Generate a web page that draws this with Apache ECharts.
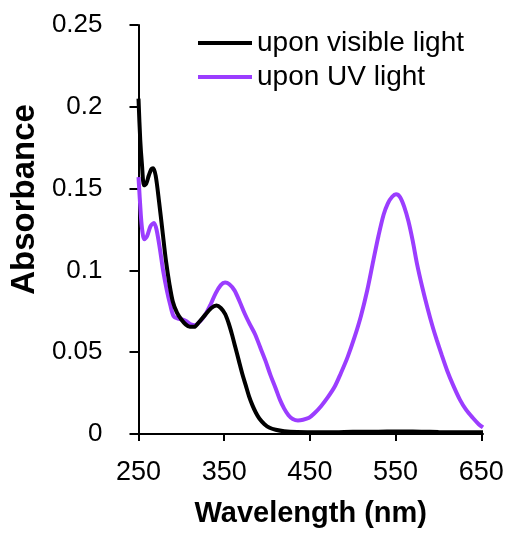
<!DOCTYPE html>
<html>
<head>
<meta charset="utf-8">
<script src="https://cdn.jsdelivr.net/npm/echarts@6/dist/echarts.min.js"></script>
<style>
  html, body { margin: 0; padding: 0; background: #fff; }
  #chart { width: 510px; height: 533px; }
</style>
</head>
<body>
<div id="chart"></div>
<script>
// wavelength (nm) / absorbance
const visWl = [250, 252, 254, 256.5, 259, 262, 265, 267, 270, 274, 278, 282, 286, 290, 295, 300, 305, 310, 315, 320, 328, 335, 341, 346, 351, 355, 359, 363, 367, 371, 375, 379, 383, 387, 391, 397, 403, 410, 420, 435, 460, 480, 500, 520, 540, 560, 580, 600, 620, 640, 652]
const visAbs = [0.205, 0.180, 0.165, 0.152, 0.153, 0.158, 0.162, 0.1625, 0.158, 0.142, 0.124, 0.106, 0.092, 0.081, 0.074, 0.070, 0.067, 0.0655, 0.0655, 0.068, 0.073, 0.077, 0.0785, 0.077, 0.0734, 0.068, 0.061, 0.053, 0.045, 0.037, 0.030, 0.023, 0.0175, 0.013, 0.0095, 0.006, 0.0038, 0.0026, 0.0017, 0.0012, 0.001, 0.001, 0.0014, 0.0013, 0.0015, 0.0015, 0.0014, 0.0012, 0.0011, 0.001, 0.001]

const uvWl = [250, 252.7, 254.5, 256.6, 260, 264, 268, 271, 275, 279, 283, 287, 291, 296, 301, 306, 311, 316, 322, 328, 334, 340, 346, 351, 356, 362, 368, 374, 380, 386, 392, 398, 404, 410, 415, 420, 425, 430, 436, 442, 449, 455, 463, 471, 479, 486, 494, 502, 509.5, 517, 524, 530, 536, 541, 546, 550.5, 555, 560, 565, 570, 575, 581, 587, 593, 598, 604, 610, 617, 625, 632, 640, 647, 652]
const uvAbs = [0.157, 0.134, 0.124, 0.119, 0.121, 0.127, 0.129, 0.125, 0.113, 0.099, 0.088, 0.079, 0.072, 0.0705, 0.070, 0.069, 0.067, 0.0665, 0.069, 0.073, 0.079, 0.086, 0.091, 0.0926, 0.0915, 0.0878, 0.081, 0.0735, 0.067, 0.061, 0.053, 0.045, 0.036, 0.028, 0.021, 0.0155, 0.0115, 0.0092, 0.0083, 0.0087, 0.0099, 0.0125, 0.017, 0.0225, 0.029, 0.037, 0.047, 0.059, 0.072, 0.088, 0.106, 0.121, 0.134, 0.141, 0.145, 0.1465, 0.145, 0.139, 0.130, 0.118, 0.104, 0.090, 0.0775, 0.066, 0.0575, 0.048, 0.039, 0.030, 0.021, 0.015, 0.0099, 0.006, 0.004]

const yTicks = [0, 0.05, 0.1, 0.15, 0.2, 0.25]
const xTicks = [250, 350, 450, 550, 650]

const font = 'Liberation Sans, Arial, sans-serif'

function pairs(xs, ys) {
  return xs.map((x, i) => [x, ys[i]])
}

let myChart = echarts.init(document.getElementById('chart'))

const option = {
  animation: false,
  backgroundColor: '#fff',
  grid: {
    left: 136,
    right: 27,
    top: 25,
    bottom: 95
  },
  legend: {
    orient: 'vertical',
    left: 198,
    top: 29,
    padding: 0,
    itemGap: 6,
    itemWidth: 54,
    itemHeight: 4,
    icon: 'rect',
    textStyle: { fontFamily: font, fontSize: 28, color: '#000' },
    data: ['upon visible light', 'upon UV light']
  },
  xAxis: {
    type: 'value',
    min: 250,
    max: 652,
    interval: 100,
    name: 'Wavelength (nm)',
    nameLocation: 'middle',
    nameGap: 65,
    nameTextStyle: { fontFamily: font, fontSize: 29, fontWeight: 'bold', color: '#000' },
    axisLine: { show: true, lineStyle: { color: '#000', width: 2 } },
    axisTick: { show: true, inside: false, length: 7, lineStyle: { color: '#000', width: 2 } },
    axisLabel: {
      margin: 25,
      fontFamily: font,
      fontSize: 27,
      color: '#000',
      showMaxLabel: false,
      formatter: v => (xTicks.indexOf(v) >= 0 ? String(v) : '')
    },
    splitLine: { show: false }
  },
  yAxis: {
    type: 'value',
    min: 0,
    max: 0.25,
    interval: 0.05,
    name: 'Absorbance',
    nameLocation: 'middle',
    nameGap: 88,
    nameRotate: 90,
    nameTextStyle: { fontFamily: font, fontSize: 33, fontWeight: 'bold', color: '#000', padding: [0, 0, 0, 60] },
    axisLine: { show: true, lineStyle: { color: '#000', width: 2 } },
    axisTick: { show: true, inside: false, length: 9, lineStyle: { color: '#000', width: 2 } },
    axisLabel: {
      margin: 36,
      fontFamily: font,
      fontSize: 26,
      color: '#000',
      formatter: v => (yTicks.indexOf(+v.toFixed(2)) >= 0 ? String(+v.toFixed(2)) : '')
    },
    splitLine: { show: false }
  },
  series: [
    {
      name: 'upon visible light',
      type: 'line',
      data: pairs(visWl, visAbs),
      smooth: 0.3,
      showSymbol: false,
      z: 3,
      itemStyle: { color: '#000' },
      lineStyle: { color: '#000', width: 4 }
    },
    {
      name: 'upon UV light',
      type: 'line',
      data: pairs(uvWl, uvAbs),
      smooth: 0.3,
      showSymbol: false,
      z: 2,
      itemStyle: { color: '#9b3dff' },
      lineStyle: { color: '#9b3dff', width: 4 }
    }
  ]
}

myChart.setOption(option)
</script>
</body>
</html>
